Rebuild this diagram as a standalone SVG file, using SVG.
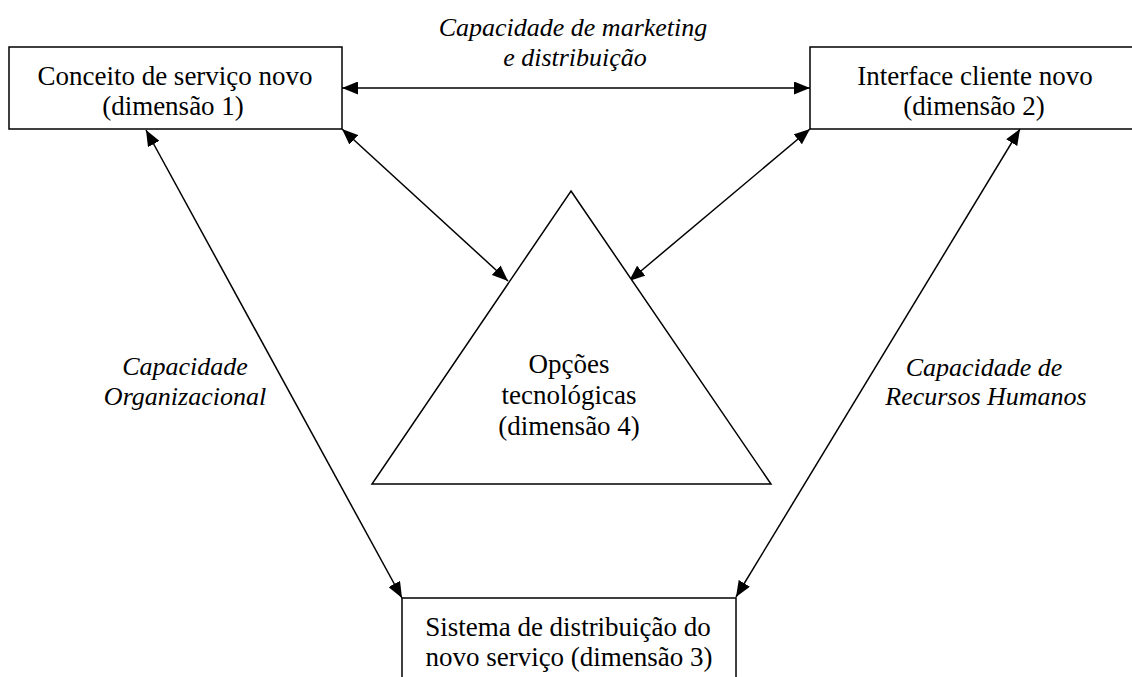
<svg xmlns="http://www.w3.org/2000/svg" width="1132" height="677" viewBox="0 0 1132 677">
  <style>
    .box { fill: #ffffff; stroke: #000000; stroke-width: 1.5; }
    .lbl { font-family: "Liberation Serif", "Times New Roman", serif; font-size: 27px; fill: #000000; text-anchor: middle; }
    .cap { font-family: "Liberation Serif", "Times New Roman", serif; font-size: 26px; font-style: italic; fill: #000000; text-anchor: middle; }
    .link { fill: none; stroke: #000000; stroke-width: 1.5; marker-start: url(#head); marker-end: url(#head); }
  </style>
  <defs>
    <marker id="head" markerUnits="userSpaceOnUse" markerWidth="17" markerHeight="13" refX="16" refY="6.5" orient="auto-start-reverse">
      <path d="M0,0 L16,6.5 L0,13 Z" fill="#000000"/>
    </marker>
  </defs>
  <rect width="1132" height="677" fill="#ffffff"/>

  <!-- two-way links between the four dimensions -->
  <g id="connectors">
    <line class="link" x1="342" y1="88" x2="810" y2="88"/>
    <line class="link" x1="342" y1="129" x2="508" y2="281"/>
    <line class="link" x1="810" y1="129" x2="629" y2="281"/>
    <line class="link" x1="146" y1="130" x2="402" y2="598"/>
    <line class="link" x1="1020" y1="129" x2="736" y2="597"/>
  </g>

  <g id="dim1">
    <rect class="box" x="9" y="47" width="333" height="82"/>
    <text class="lbl" x="175" y="85">Conceito de serviço novo</text>
    <text class="lbl" x="173" y="115">(dimensão 1)</text>
  </g>

  <g id="dim2">
    <rect class="box" x="810" y="47" width="340" height="82"/>
    <text class="lbl" x="975" y="85">Interface cliente novo</text>
    <text class="lbl" x="974" y="115">(dimensão 2)</text>
  </g>

  <g id="dim3">
    <rect class="box" x="402" y="598" width="334" height="100"/>
    <text class="lbl" x="568" y="636">Sistema de distribuição do</text>
    <text class="lbl" x="569" y="666">novo serviço (dimensão 3)</text>
  </g>

  <g id="dim4">
    <polygon class="box" points="571,191 771,484 372,484"/>
    <text class="lbl" x="569" y="373">Opções</text>
    <text class="lbl" x="569" y="404">tecnológicas</text>
    <text class="lbl" x="569" y="435">(dimensão 4)</text>
  </g>

  <g id="cap-marketing">
    <text class="cap" x="573" y="36">Capacidade de marketing</text>
    <text class="cap" x="575" y="66">e distribuição</text>
  </g>

  <g id="cap-organizacional">
    <text class="cap" x="185" y="375">Capacidade</text>
    <text class="cap" x="185" y="405">Organizacional</text>
  </g>

  <g id="cap-rh">
    <text class="cap" x="984" y="376">Capacidade de</text>
    <text class="cap" x="986" y="405">Recursos Humanos</text>
  </g>
</svg>
